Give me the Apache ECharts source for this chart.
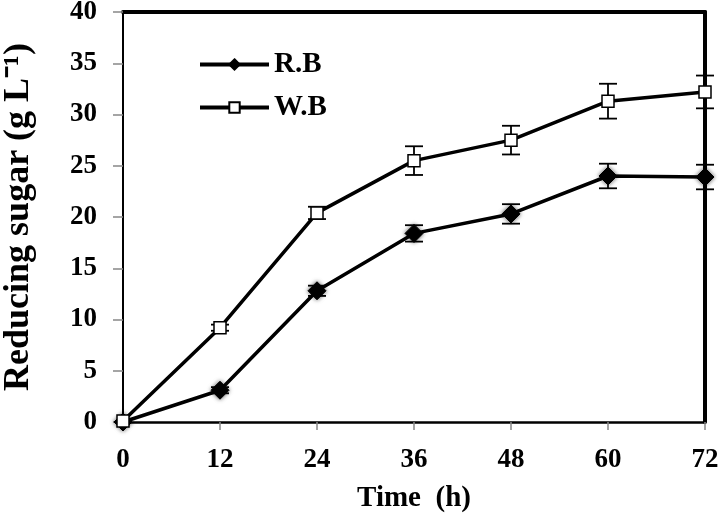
<!DOCTYPE html>
<html><head><meta charset="utf-8">
<script src="https://cdn.jsdelivr.net/npm/echarts@6/dist/echarts.min.js"></script>
<style>html,body{margin:0;padding:0;background:#fff}#c{width:725px;height:517px}</style>
</head><body><div id="c"></div>
<script>
var times = [0, 12, 24, 36, 48, 60, 72];
var rbValues = [0, 3.1, 12.8, 18.4, 20.3, 24.0, 23.9];
var rbErrors = [0, 0.3, 0.5, 0.8, 0.95, 1.2, 1.2];
var wbValues = [0.1, 9.2, 20.4, 25.5, 27.5, 31.3, 32.2];
var wbErrors = [0, 0.3, 0.6, 1.4, 1.4, 1.7, 1.6];
var xTicks = [0, 12, 24, 36, 48, 60, 72];
var yTicks = [0, 5, 10, 15, 20, 25, 30, 35, 40];

var FONT = 'Liberation Serif';
function pairs(vals){ return times.map(function(t,i){ return [t, vals[i]]; }); }
function errData(vals, errs){ return times.map(function(t,i){ return [t, vals[i]-errs[i], vals[i]+errs[i]]; }); }
function errSeries(vals, errs){
  return {
    type: 'custom', silent: true, z: 1,
    data: errData(vals, errs),
    encode: {x: 0, y: [1, 2]},
    renderItem: function(params, api){
      var x = api.value(0);
      var lo = api.coord([x, api.value(1)]);
      var hi = api.coord([x, api.value(2)]);
      if (Math.abs(hi[1]-lo[1]) < 1) return null;
      var w = 9;
      var st = {stroke: '#000', lineWidth: 1.8};
      return {type: 'group', children: [
        {type: 'line', shape: {x1: lo[0], y1: lo[1], x2: hi[0], y2: hi[1]}, style: st},
        {type: 'line', shape: {x1: lo[0]-w, y1: lo[1], x2: lo[0]+w, y2: lo[1]}, style: st},
        {type: 'line', shape: {x1: hi[0]-w, y1: hi[1], x2: hi[0]+w, y2: hi[1]}, style: st}
      ]};
    }
  };
}

var chart = echarts.init(document.getElementById('c'));
chart.setOption({
  animation: false,
  backgroundColor: '#fff',
  grid: {left: 123, right: 20, top: 12, bottom: 95, outerBoundsMode: 'none', containLabel: false},
  legend: {
    left: 193, top: 45, orient: 'vertical', itemWidth: 69, itemHeight: 13, itemGap: 14,
    lineStyle: {width: 4, color: '#000'},
    textStyle: {fontFamily: FONT, fontWeight: 'bold', fontSize: 29, color: '#000'},
    data: ['R.B', 'W.B']
  },
  xAxis: [{
    type: 'value', min: 0, max: 72, interval: 12,
    name: 'Time  (h)', nameLocation: 'middle', nameGap: 62,
    nameTextStyle: {fontFamily: FONT, fontWeight: 'bold', fontSize: 29, color: '#000'},
    axisLine: {lineStyle: {color: '#000', width: 2.5}},
    axisTick: {show: true, length: 8, inside: false, lineStyle: {color: '#888', width: 1.5}},
    axisLabel: {fontFamily: FONT, fontWeight: 'bold', fontSize: 27, color: '#000', margin: 25,
      formatter: function(v){ return xTicks.indexOf(v) >= 0 ? String(v) : ''; }},
    splitLine: {show: false}
  }, {
    type: 'value', position: 'top', min: 0, max: 72, interval: 12,
    axisLine: {show: true, onZero: false, lineStyle: {color: '#000', width: 4}},
    axisTick: {show: false}, axisLabel: {show: false}, splitLine: {show: false}
  }],
  yAxis: [{
    type: 'value', min: 0, max: 40, interval: 5,
    name: 'Reducing sugar (g L\u207B\u00B9)', nameLocation: 'middle', nameGap: 86,
    nameTextStyle: {fontFamily: FONT, fontWeight: 'bold', fontSize: 36, color: '#000'},
    axisLine: {show: true, lineStyle: {color: '#000', width: 2}},
    axisTick: {show: true, length: 10, lineStyle: {color: '#888', width: 1.5}},
    axisLabel: {fontFamily: FONT, fontWeight: 'bold', fontSize: 27, color: '#000', margin: 26,
      formatter: function(v){ return yTicks.indexOf(v) >= 0 ? String(v) : ''; }},
    splitLine: {show: false}
  }, {
    type: 'value', position: 'right', min: 0, max: 40, interval: 5,
    axisLine: {show: true, onZero: false, lineStyle: {color: '#000', width: 4}},
    axisTick: {show: false}, axisLabel: {show: false}, splitLine: {show: false}
  }],
  series: [
    errSeries(rbValues, rbErrors),
    errSeries(wbValues, wbErrors),
    {
      name: 'R.B', type: 'line', data: pairs(rbValues), z: 3,
      symbol: 'diamond', symbolSize: 18,
      lineStyle: {color: '#000', width: 3.5},
      itemStyle: {color: '#000', borderColor: '#000', borderWidth: 1, shadowBlur: 4, shadowColor: 'rgba(0,0,0,0.6)'}
    },
    {
      name: 'W.B', type: 'line', data: pairs(wbValues), z: 4,
      symbol: 'rect', symbolSize: 12,
      lineStyle: {color: '#000', width: 3.5},
      itemStyle: {color: '#fff', borderColor: '#000', borderWidth: 1.5}
    }
  ]
});
</script></body></html>
